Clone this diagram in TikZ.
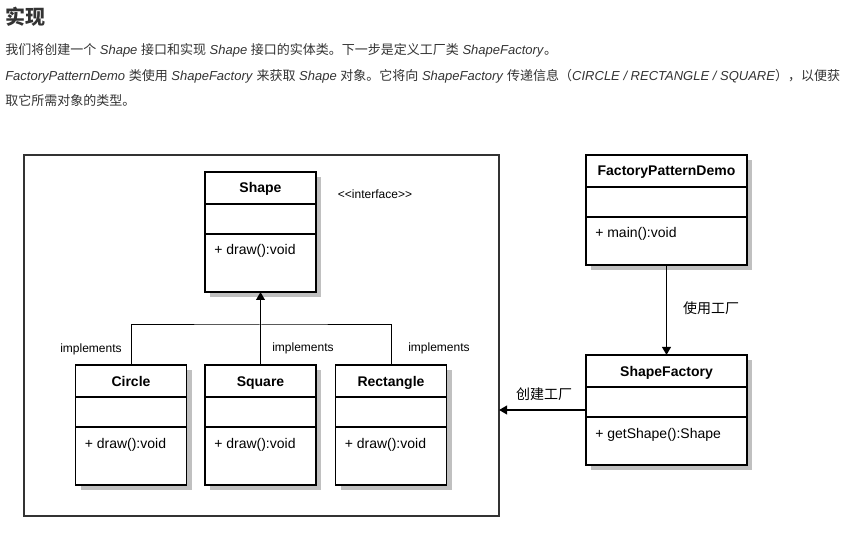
\documentclass[tikz,border=0pt]{standalone}
\usepackage{fontspec}
\setmainfont{Liberation Sans}
\newfontfamily\cjk{Noto Sans CJK SC}
\usepackage{tikz}
\usetikzlibrary{arrows.meta, positioning, backgrounds}
\definecolor{txtgray}{RGB}{51,51,51}
\definecolor{framegray}{RGB}{51,51,51}
\definecolor{shadowgray}{RGB}{192,192,192}
\newcommand{\zh}[1]{{\cjk #1}}

\begin{document}
\begin{tikzpicture}[x=0.75pt, y=-0.75pt,
    classpart/.style={draw, fill=white, line width=1pt, outer sep=0pt, inner sep=0pt, minimum width=83.25pt},
    wide/.style={minimum width=120.75pt},
    headpart/.style={classpart, minimum height=24pt, text height=8pt, text depth=0.5pt, font=\fontsize{10.5}{12}\selectfont\bfseries},
    blankpart/.style={classpart, minimum height=22.5pt},
    opspart/.style={classpart, minimum height=43.5pt},
    optext/.style={anchor=base west, inner sep=0pt, font=\fontsize{10.5}{12}\selectfont},
    shade/.style={fill=shadowgray},
    note/.style={font=\fontsize{9}{11}\selectfont},
    zhnote/.style={font=\fontsize{10.5}{12}\selectfont},
    arr/.style={-{Triangle[length=6pt,width=6.5pt]}, line width=1.2pt},
    intro/.style={anchor=west, inner sep=0pt, text=txtgray, font=\fontsize{9.75}{12}\selectfont}]
    \useasboundingbox (0,0) rectangle (848,548);

    % Intro text
    \node[intro, font=\fontsize{15}{18}\selectfont\bfseries] (title) at (5,17) {\zh{实现}};
    \node[intro] (line1) at (5,50) {\zh{我们将创建一个} \textit{Shape} \zh{接口和实现} \textit{Shape} \zh{接口的实体类。下一步是定义工厂类} \textit{ShapeFactory}\zh{。}};
    \node[intro] (line2) at (5,76) {\textit{FactoryPatternDemo} \zh{类使用} \textit{ShapeFactory} \zh{来获取} \textit{Shape} \zh{对象。它将向} \textit{ShapeFactory} \zh{传递信息（}\textit{CIRCLE / RECTANGLE / SQUARE}\zh{），以便获}};
    \node[intro] (line3) at (5,101) {\zh{取它所需对象的类型。}};

    % Frame
    \node[draw=framegray, line width=1.5pt, minimum width=356.25pt, minimum height=270.75pt, inner sep=0pt, outer sep=0pt] (frame) at (261.5,335.5) {};

    % Shape interface
    \node[headpart] (shape-head) at (260.5,188) {Shape};
    \node[blankpart, below=0pt of shape-head] (shape-attr) {};
    \node[opspart, below=0pt of shape-attr] (shape-ops) {};
    \node[optext] (shape-op) at ([shift={(9,21)}]shape-ops.north west) {+ draw():void};
    \node[note] (iface) at (375,194) {<\kern0pt<interface>\kern0pt>};

    % Concrete classes
    \foreach \cls/\cname/\cx in {circle/Circle/131, square/Square/260.5, rectangle/Rectangle/391} {
        \node[headpart] (\cls-head) at (\cx,381) {\cname};
        \node[blankpart, below=0pt of \cls-head] (\cls-attr) {};
        \node[opspart, below=0pt of \cls-attr] (\cls-ops) {};
        \node[optext] (\cls-op) at ([shift={(9,21)}]\cls-ops.north west) {+ draw():void};
    }

    % Implements
    \coordinate (bar) at (260.5,325);
    \draw[line width=0.75pt] (circle-head.north) |- (bar) -| (rectangle-head.north);
    \draw[arr] (square-head.north) -- (shape-ops.south);
    \node[note] (impl1) at (91,349) {implements};
    \node[note] (impl2) at (303,348) {implements};
    \node[note] (impl3) at (439,348) {implements};

    % FactoryPatternDemo
    \node[headpart, wide] (demo-head) at (666.5,171) {FactoryPatternDemo};
    \node[blankpart, wide, below=0pt of demo-head] (demo-attr) {};
    \node[opspart, wide, minimum height=36pt, below=0pt of demo-attr] (demo-ops) {};
    \node[optext] (demo-op) at ([shift={(9,21)}]demo-ops.north west) {+ main():void};

    % ShapeFactory
    \node[headpart, wide] (factory-head) at (666.5,371) {ShapeFactory};
    \node[blankpart, wide, below=0pt of factory-head] (factory-attr) {};
    \node[opspart, wide, minimum height=36pt, below=0pt of factory-attr] (factory-ops) {};
    \node[optext] (factory-op) at ([shift={(9,21)}]factory-ops.north west) {+ getShape():Shape};

    % Shadows
    \begin{scope}[on background layer]
        \foreach \cls in {shape, circle, square, rectangle, demo, factory}
            \fill[shade] ([shift={(5,5)}]\cls-head.north west) rectangle ([shift={(5,5)}]\cls-ops.south east);
    \end{scope}

    % Arrows
    \draw[arr] (demo-ops.south) -- (factory-head.north);
    \node[zhnote] (use) at (711,308) {\zh{使用工厂}};
    \coordinate (made) at ([yshift=-6pt]factory-attr.west);
    \draw[arr] (made) -- (made -| frame.east);
    \node[zhnote] (create) at (544,394) {\zh{创建工厂}};
\end{tikzpicture}
\end{document}
